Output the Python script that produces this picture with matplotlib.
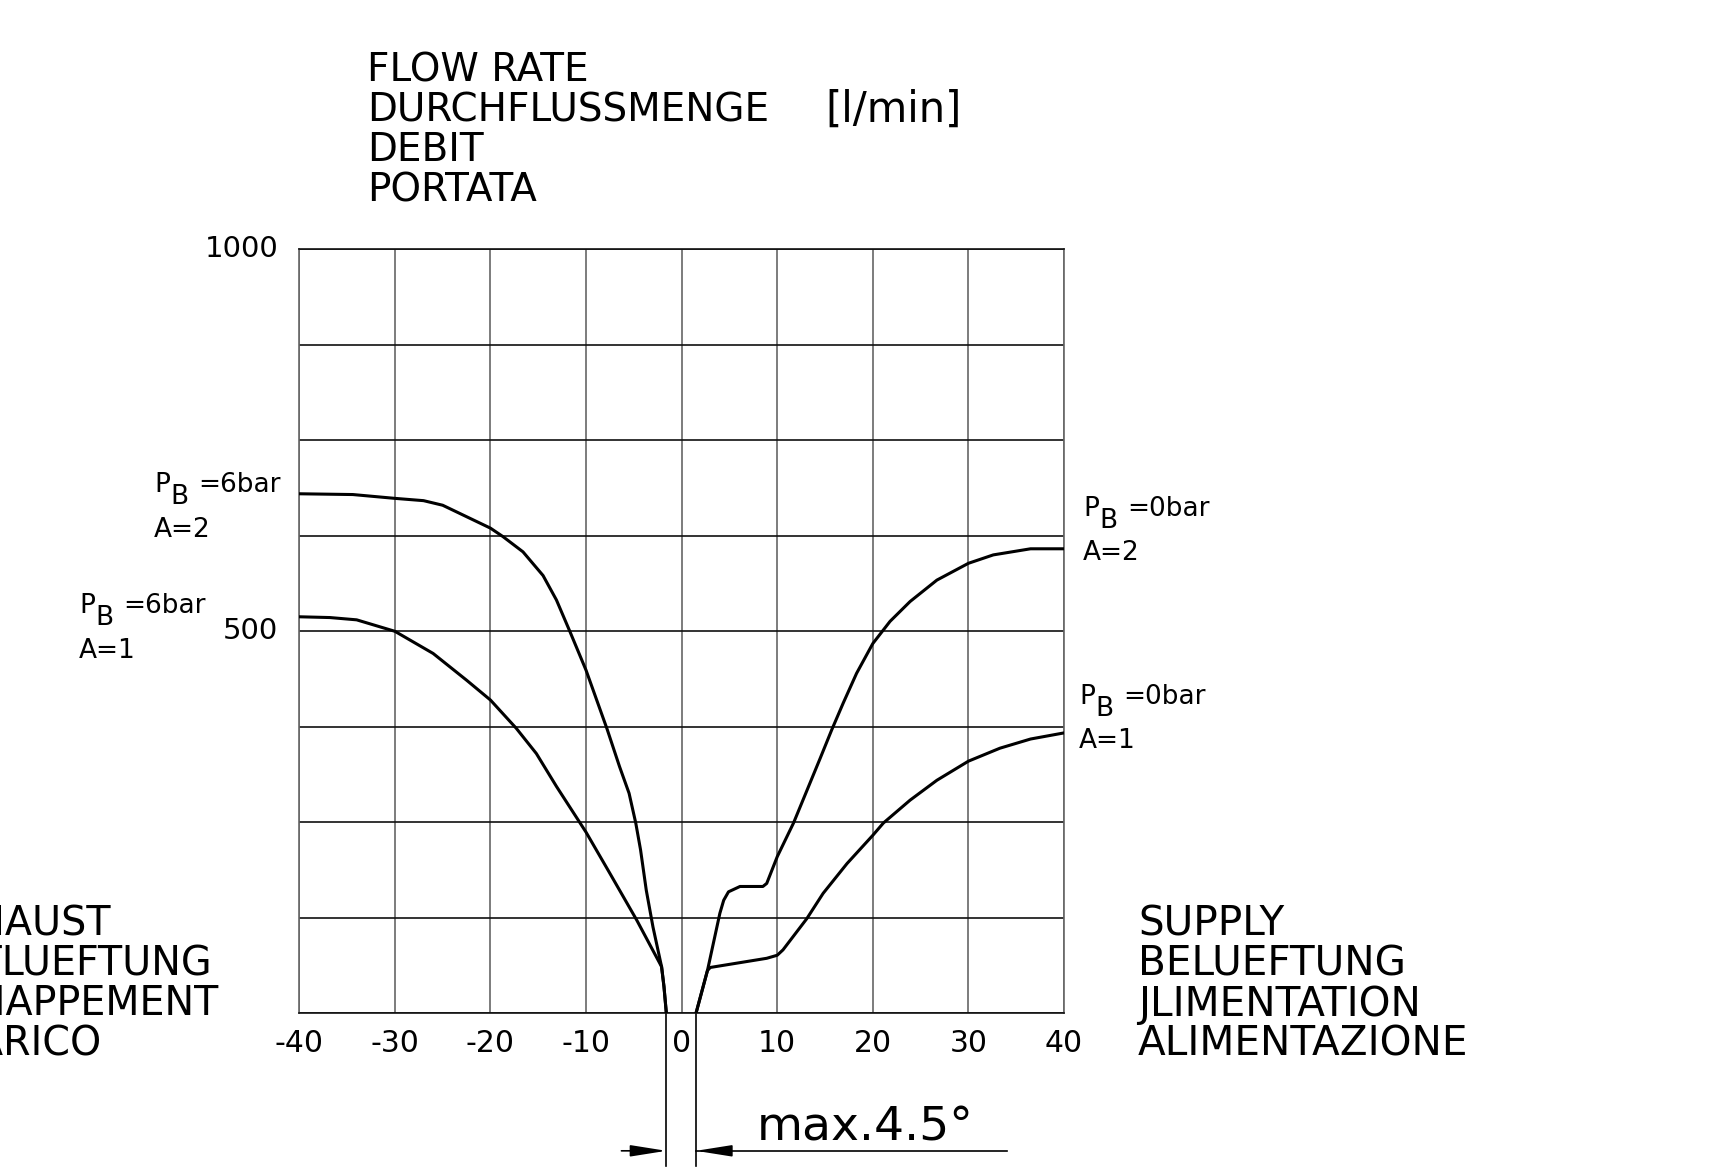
import matplotlib
matplotlib.use("Agg")
import matplotlib.pyplot as plt
import numpy as np

plt.rcParams['font.family'] = ['DejaVu Sans']
plt.rcParams['axes.unicode_minus'] = False

# valve angle [deg] vs flow rate [l/min]
angle_6bar_a2 = [-40, -34.4, -30, -27, -25, -20, -18.7, -16.6, -14.5, -13.1, -11.7, -10,
                 -7.8, -6.5, -5.5, -4.8, -4.3, -3.7, -3.0, -2.1, -1.85, -1.6]
flow_6bar_a2 = [680, 679, 674, 671, 665, 635, 624, 604, 573, 541, 500, 449,
                372, 323, 288, 249, 214, 161, 113, 61, 35, 0]

angle_6bar_a1 = [-40, -36.8, -34, -30, -26, -22.5, -20, -17.3, -15.2, -13.1, -10, -7.5,
                 -4.7, -2.1, -1.85, -1.6]
flow_6bar_a1 = [519, 518, 515, 500, 471, 436, 410, 373, 340, 297, 237, 183,
                122, 61, 35, 0]

angle_0bar_a2 = [1.5, 2.7, 4.0, 4.4, 4.9, 6.1, 8.5, 8.9, 10, 11.7, 14.5, 15.7, 16.9,
                 18.3, 20, 21.8, 23.9, 26.7, 30, 32.6, 36.5, 40]
flow_0bar_a2 = [0, 56, 131, 148, 159, 166, 166, 170, 205, 249, 334, 371, 406,
                445, 484, 513, 539, 567, 589, 600, 608, 608]

angle_0bar_a1 = [1.5, 2.7, 3.0, 8.9, 10, 10.6, 13.1, 14.8, 17.3, 20, 21.1, 23.9,
                 26.7, 30, 33.3, 36.5, 40]
flow_0bar_a1 = [0, 56, 60, 72, 76, 83, 124, 157, 196, 233, 249, 279,
                305, 330, 347, 359, 367]

x_ticks = [-40, -30, -20, -10, 0, 10, 20, 30, 40]
y_grid = [0, 125, 250, 375, 500, 625, 750, 875, 1000]
y_labels = ['', '', '', '', '500', '', '', '', '1000']

min_angle = -1.6
max_angle = 1.5

W, H = 1720, 1172
fig = plt.figure(figsize=(W / 100, H / 100), dpi=100)
ax = fig.add_axes([299.3 / W, 1 - 1013.3 / H, 764.7 / W, 764 / H])

ax.set_xlim(-40, 40)
ax.set_ylim(0, 1000)

# grid (vertical lines greyer than horizontal ones, like the CAD plot)
for x in x_ticks:
    ax.axvline(x, color='#666666', lw=1.2, zorder=1)
for y in y_grid:
    ax.axhline(y, color='#111111', lw=1.2, zorder=1)
for s in ['left', 'right']:
    ax.spines[s].set_color('#666666')
    ax.spines[s].set_linewidth(1.2)
for s in ['top', 'bottom']:
    ax.spines[s].set_color('#111111')
    ax.spines[s].set_linewidth(1.2)

ax.set_xticks(x_ticks)
ax.set_xticklabels([str(v) for v in x_ticks], fontsize=21.5)
ax.set_yticks(y_grid)
ax.set_yticklabels(y_labels, fontsize=21)
ax.tick_params(length=0)
ax.tick_params(axis='x', pad=11)
ax.tick_params(axis='y', pad=15)
for lbl in ax.get_yticklabels():
    lbl.set_verticalalignment('center')

# curves
for xs, ys in [(angle_6bar_a2, flow_6bar_a2), (angle_6bar_a1, flow_6bar_a1),
               (angle_0bar_a2, flow_0bar_a2), (angle_0bar_a1, flow_0bar_a1)]:
    ax.plot(xs, ys, color='black', lw=2.2, solid_joinstyle='round', zorder=3)

# dead band marks below the axis
ax.plot([min_angle, min_angle], [0, -200], color='black', lw=1.2, clip_on=False)
ax.plot([max_angle, max_angle], [0, -200], color='black', lw=1.2, clip_on=False)
ax.plot([max_angle, 34.0], [-180, -180], color='black', lw=1.2, clip_on=False)
arrow = dict(arrowstyle='-|>,head_length=2.2,head_width=0.35', color='black',
             lw=1.2, shrinkA=0, shrinkB=0)
ax.annotate('', xy=(min_angle, -180), xytext=(-6.3, -180), arrowprops=arrow,
            annotation_clip=False)
ax.annotate('', xy=(max_angle, -180), xytext=(4.9, -180), arrowprops=arrow,
            annotation_clip=False)


def ftext(x, y, s, **kw):
    fig.text(x / W, 1 - y / H, s, va='center', ha='left', **kw)


ftext(757, 1128, 'max.4.5°', fontsize=34)

# title block
title_lines = ['FLOW RATE', 'DURCHFLUSSMENGE', 'DEBIT', 'PORTATA']
for i, t in enumerate(title_lines):
    ftext(367, 70 + 40 * i, t, fontsize=28)
ftext(825, 110, '[l/min]', fontsize=30)

# direction labels
left_lines = ['EXHAUST', 'ENTLUEFTUNG', 'ECHAPPEMENT', 'SCARICO']
right_lines = ['SUPPLY', 'BELUEFTUNG', 'JLIMENTATION', 'ALIMENTAZIONE']
for i, (l, r) in enumerate(zip(left_lines, right_lines)):
    ftext(-77, 925 + 40 * i, l, fontsize=28.5)
    ftext(1138, 925 + 40 * i, r, fontsize=29.2)


# curve labels: P with a large subscript B, pressure, area line below
def pb_label(x, y, value, area, y_area):
    ftext(x, y, 'P', fontsize=19)
    ftext(x + 16, y + 12, 'B', fontsize=19)
    ftext(x + 44, y, value, fontsize=19)
    ftext(x, y_area, area, fontsize=19)


pb_label(154, 485, '=6bar', 'A=2', 530)
pb_label(79, 606, '=6bar', 'A=1', 651)
pb_label(1083, 509, '=0bar', 'A=2', 553)
pb_label(1079, 697, '=0bar', 'A=1', 741)

fig.savefig('out.png', dpi=100)
